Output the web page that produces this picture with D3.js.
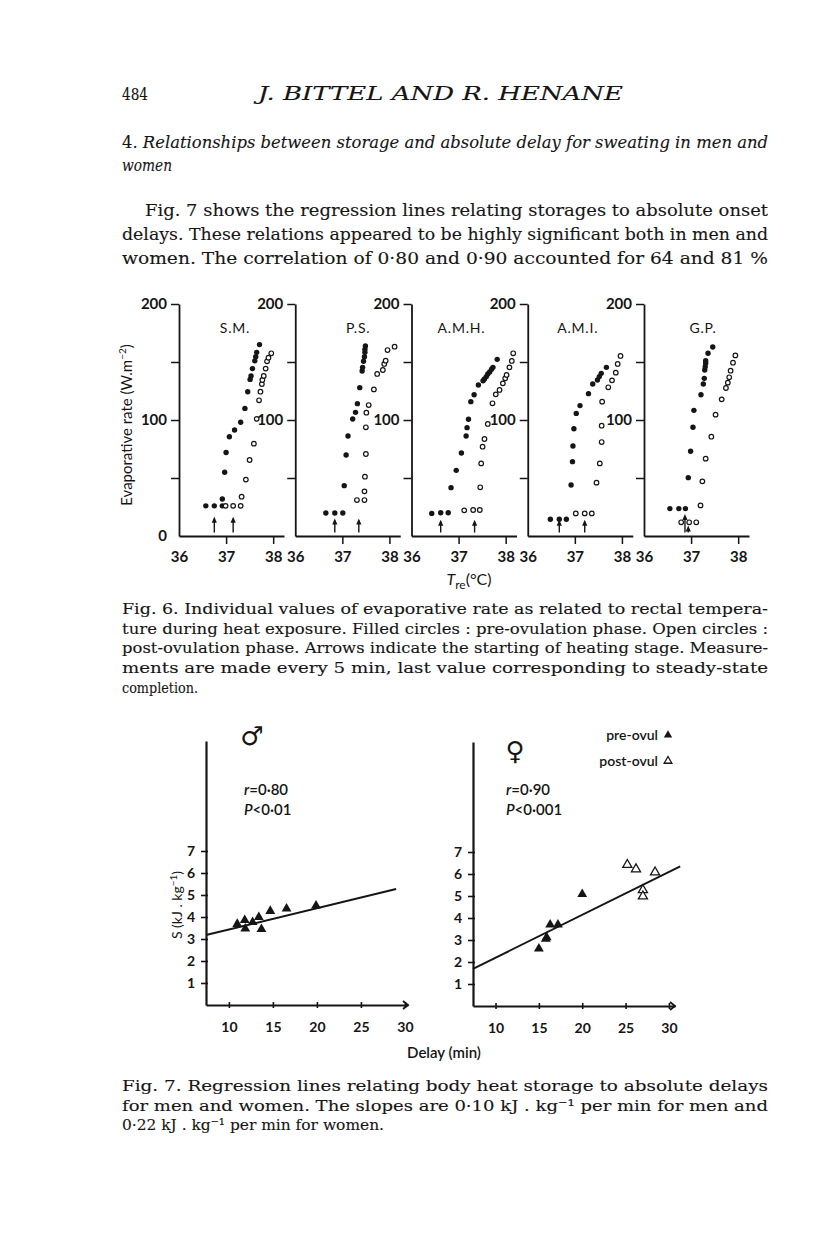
<!DOCTYPE html>
<html>
<head>
<meta charset="utf-8">
<script src="https://cdn.jsdelivr.net/npm/d3@7"></script>
<style>
  body { margin: 0; background: #fff; }
  svg { display: block; }
</style>
</head>
<body>
<svg id="page" width="816" height="1253"></svg>
<script>
// ---- Fig. 6 data: [rectal temperature °C, evaporative rate W.m-2] ----
const subjects = ["S.M.", "P.S.", "A.M.H.", "A.M.I.", "G.P."];

const smPre = [[36.57,26],[36.75,26],[36.92,26],[36.92,31.9],[36.97,55],[37.0,72],[37.07,85.6],[37.18,91.4],[37.31,98],[37.4,110],[37.46,124.4],[37.51,135],[37.53,138],[37.56,144.3],[37.61,151],[37.63,154.6],[37.65,158.3],[37.71,165]];
const smPost = [[36.99,26],[37.15,26],[37.31,26],[37.33,33.9],[37.42,48.6],[37.5,65.5],[37.59,79.6],[37.65,101],[37.7,117],[37.73,124.4],[37.76,131],[37.77,134.5],[37.8,138],[37.84,144.3],[37.87,150.6],[37.9,153.7],[37.96,157.5]];

const psPre = [[36.65,19.8],[36.84,19.8],[37.01,19.8],[37.04,43.4],[37.08,69.8],[37.12,86.2],[37.22,100.9],[37.28,106.6],[37.32,114.1],[37.37,127.9],[37.42,142.2],[37.43,145.4],[37.45,150.6],[37.47,154.6],[37.48,158.3],[37.48,160.9],[37.49,163.8]];
const psPost = [[37.31,31],[37.47,31],[37.47,38.5],[37.48,51.1],[37.5,70.7],[37.5,93.7],[37.51,106.3],[37.56,112.9],[37.67,126.4],[37.74,139.7],[37.86,143.1],[37.89,148.3],[37.92,151.1],[37.96,160.3],[38.11,163.2]];

const amhPre = [[36.43,19.5],[36.62,20.1],[36.78,20.1],[36.84,41.7],[36.95,56.6],[37.06,71.6],[37.16,86.2],[37.18,93.4],[37.21,100.6],[37.26,115.8],[37.33,121.8],[37.42,130.2],[37.52,133.9],[37.55,135.3],[37.59,137.4],[37.62,139.7],[37.66,141.4],[37.7,143.7],[37.73,145.4],[37.82,152.3]];
const amhPost = [[37.12,22.1],[37.31,22.4],[37.45,22.4],[37.46,42],[37.48,62.6],[37.51,77],[37.55,83.6],[37.62,96.6],[37.72,114.4],[37.79,122.1],[37.87,125.9],[37.94,131.6],[37.99,135.9],[38.02,138.8],[38.08,145.4],[38.13,150.9],[38.16,157.5]];

const amiPre = [[36.48,14.4],[36.67,14.4],[36.82,14.4],[36.92,44],[36.95,64.1],[36.96,77.6],[36.98,92.5],[37.03,105.7],[37.11,112.4],[37.29,122.7],[37.38,131],[37.48,134.5],[37.52,137.4],[37.56,140.2],[37.67,145.4]];
const amiPost = [[37.02,19.5],[37.21,19.5],[37.36,19.5],[37.46,46],[37.53,62.6],[37.57,81],[37.57,95.1],[37.58,115.8],[37.71,128.2],[37.79,134.2],[37.87,140.8],[37.91,148.3],[37.97,155.2]];

const gpPre = [[36.55,23.6],[36.74,23.6],[36.88,23.6],[36.94,50.3],[36.99,73],[37.04,93.7],[37.06,108.3],[37.21,121.8],[37.26,131],[37.28,135.9],[37.29,143.1],[37.3,146],[37.31,148.9],[37.31,151.1],[37.36,157.5],[37.46,162.9]];
const gpPost = [[36.79,11.8],[36.96,11.8],[37.11,11.8],[37.2,26.4],[37.24,47.1],[37.31,66.7],[37.43,85.6],[37.52,104.6],[37.65,117.8],[37.74,127.6],[37.78,132.2],[37.81,136.8],[37.84,142.5],[37.89,149.4],[37.94,155.7]];

const preSeries = [smPre, psPre, amhPre, amiPre, gpPre];
const postSeries = [smPost, psPost, amhPost, amiPost, gpPost];

// start of heating: [temperature, arrow tip value]
const heatArrows = [
  [[36.75,16.5],[37.15,16.5]],
  [[36.84,15],[37.35,15]],
  [[36.62,14],[37.34,14]],
  [[36.67,14],[37.21,14]],
  [[36.87,19],[36.94,9]]
];

const evapTicks = [50, 100, 150, 200];
const tempTicks = [36, 37, 38];

// ---- Fig. 7 data: delay (min) vs storage (kJ.kg-1) ----
const maleDelay   = [10.95, 11.8, 11.86, 12.7, 13.4, 13.7, 14.7, 16.55, 19.9];
const maleStorage = [3.68, 3.86, 3.47, 3.76, 3.99, 3.45, 4.27, 4.38, 4.51];
const femPreDelay   = [15.0, 15.8, 15.9, 16.3, 17.2, 20.0];
const femPreStorage = [2.61, 3.05, 3.12, 3.7, 3.7, 5.08];
const femPostDelay   = [25.2, 26.2, 27.0, 27.0, 28.4];
const femPostStorage = [6.42, 6.22, 5.27, 4.99, 6.08];
const maleLine   = [[7.4, 3.18], [29.0, 5.27]];
const femaleLine = [[7.4, 1.69], [31.3, 6.35]];
const delayTicks = [10, 15, 20, 25, 30];
const storageTicks = [1, 2, 3, 4, 5, 6, 7];

// ---- page text ----
const paragraphLines = [
  "Fig. 7 shows the regression lines relating storages to absolute onset",
  "delays. These relations appeared to be highly significant both in men and",
  "women. The correlation of 0·80 and 0·90 accounted for 64 and 81 %"
];
const fig6Caption = [
  "Fig. 6. Individual values of evaporative rate as related to rectal tempera-",
  "ture during heat exposure. Filled circles : pre-ovulation phase. Open circles :",
  "post-ovulation phase. Arrows indicate the starting of heating stage. Measure-",
  "ments are made every 5 min, last value corresponding to steady-state",
  "completion."
];
const fig7Caption = [
  "Fig. 7. Regression lines relating body heat storage to absolute delays",
  "for men and women. The slopes are 0·10 kJ . kg⁻¹ per min for men and",
  "0·22 kJ . kg⁻¹ per min for women."
];

const ink = "#151515";
const serif = "'DejaVu Serif', serif";
const sans = "Lato, 'Open Sans', sans-serif";

const svg = d3.select("#page");
svg.append("rect").attr("width", 816).attr("height", 1253).attr("fill", "#fff");

// helper for a justified line of text
function textLine(x, y, str, opts) {
  const t = svg.append("text")
    .attr("x", x).attr("y", y)
    .attr("fill", ink).attr("stroke", ink).attr("stroke-width", 0.12)
    .style("font-family", opts.family || serif)
    .style("font-size", opts.size + "px")
    .style("font-style", opts.italic ? "italic" : "normal")
    .text(str);
  if (opts.width) t.attr("textLength", opts.width).attr("lengthAdjust", "spacingAndGlyphs");
  return t;
}

function textBlock(x, y, lines, size, step, width, lastWidth) {
  lines.forEach((s, i) => {
    const last = i === lines.length - 1;
    textLine(x, y + i * step, s, { size: size, width: last ? lastWidth : width });
  });
}

// header
textLine(122, 100, "484", { size: 17, width: 26 });
textLine(258, 100, "J. BITTEL AND R. HENANE", { size: 19, italic: true, width: 365 });

// section heading
const head = svg.append("text").attr("x", 122).attr("y", 148)
  .attr("fill", ink).attr("stroke", ink).attr("stroke-width", 0.12)
  .style("font-family", serif).style("font-size", "17px")
  .attr("textLength", 646).attr("lengthAdjust", "spacingAndGlyphs");
head.append("tspan").text("4. ");
head.append("tspan").style("font-style", "italic")
  .text("Relationships between storage and absolute delay for sweating in men and");
textLine(122, 171, "women", { size: 17, italic: true, width: 50 });

// paragraph
paragraphLines.forEach((s, i) => {
  const x = i === 0 ? 145 : 122;
  textLine(x, 216 + i * 24, s, { size: 17.5, width: 768 - x });
});

// ================= Fig. 6 =================
const panelX = d3.scaleLinear().domain([0, 4]).range([179, 644]);
const yEvap = d3.scaleLinear().domain([0, 200]).range([536, 304]);
const titleShift = [56, 63, 50, 50, 59];

subjects.forEach((name, i) => {
  const x0 = panelX(i);
  const x = d3.scaleLinear().domain([36, 38.23]).range([x0, x0 + 105]);
  const g = svg.append("g");

  const yAx = g.append("g").attr("transform", `translate(${x0},0)`)
    .call(d3.axisLeft(yEvap)
      .tickValues(i === 0 ? [0].concat(evapTicks) : evapTicks)
      .tickSize(8).tickSizeOuter(0).tickPadding(4)
      .tickFormat(d => d % 100 === 0 ? d : ""));
  yAx.selectAll(".tick").filter(d => d === 0).select("line").remove();

  const xAx = g.append("g").attr("transform", `translate(0,${yEvap(0)})`)
    .call(d3.axisBottom(x).tickValues(tempTicks)
      .tickSize(8).tickSizeOuter(0).tickPadding(7)
      .tickFormat(d3.format("d")));
  xAx.selectAll(".tick").filter(d => d === 36).select("line").remove();

  [yAx, xAx].forEach(a => {
    a.select(".domain").attr("stroke", ink).attr("stroke-width", 1.8);
    a.selectAll(".tick line").attr("stroke", ink).attr("stroke-width", 1.5);
    a.selectAll(".tick text").attr("fill", ink)
      .style("font-family", sans).style("font-size", "15px").style("font-weight", 700);
  });

  g.append("text")
    .attr("x", x0 + titleShift[i]).attr("y", 333)
    .attr("text-anchor", "middle").attr("fill", ink)
    .style("font-family", sans).style("font-size", "14px").style("letter-spacing", "0.8px")
    .text(name);

  g.selectAll(".pre").data(preSeries[i]).join("circle")
    .attr("cx", d => x(d[0])).attr("cy", d => yEvap(d[1]))
    .attr("r", 2.7).attr("fill", ink);

  g.selectAll(".post").data(postSeries[i]).join("circle")
    .attr("cx", d => x(d[0])).attr("cy", d => yEvap(d[1]))
    .attr("r", 2.3).attr("fill", "#fff").attr("stroke", ink).attr("stroke-width", 1.2);

  heatArrows[i].forEach(a => {
    const ax = x(a[0]), top = yEvap(a[1]), bot = yEvap(3);
    g.append("line").attr("x1", ax).attr("x2", ax).attr("y1", top + 2).attr("y2", bot)
      .attr("stroke", ink).attr("stroke-width", 1.4);
    g.append("path")
      .attr("d", `M${ax},${top}L${ax - 2.6},${top + 6}L${ax + 2.6},${top + 6}Z`)
      .attr("fill", ink);
  });
});

// fig 6 axis titles
const evLab = svg.append("text")
  .attr("transform", "translate(132,425) rotate(-90)")
  .attr("text-anchor", "middle").attr("fill", ink)
  .style("font-family", sans).style("font-size", "15px");
evLab.append("tspan").text("Evaporative rate (W.m");
evLab.append("tspan").attr("dy", -6).style("font-size", "10px").text("−2");
evLab.append("tspan").attr("dy", 6).text(")");

const tre = svg.append("text").attr("x", 469).attr("y", 585)
  .attr("text-anchor", "middle").attr("fill", ink)
  .style("font-family", sans).style("font-size", "16px");
tre.append("tspan").style("font-style", "italic").text("T");
tre.append("tspan").attr("dy", 4).style("font-size", "12px").text("re");
tre.append("tspan").attr("dy", -4).text("(°C)");

// fig 6 caption
textBlock(122, 614, fig6Caption, 15, 19.7, 646, 76);

// ================= Fig. 7 =================
function regressionPanel(opts) {
  const x = d3.scaleLinear().domain([7.4, opts.xMax]).range([opts.left, opts.right]);
  const y = d3.scaleLinear().domain([0, 12]).range([opts.bottom, opts.bottom - 264]);
  const g = svg.append("g");

  const yAx = g.append("g").attr("transform", `translate(${opts.left},0)`)
    .call(d3.axisLeft(y).tickValues(storageTicks).tickSize(5).tickSizeOuter(0).tickPadding(6));
  yAx.selectAll(".tick line").attr("x1", 2);

  const xAx = g.append("g").attr("transform", `translate(0,${opts.bottom})`)
    .call(d3.axisBottom(x).tickValues(delayTicks).tickSize(3).tickSizeOuter(0).tickPadding(14));
  xAx.selectAll(".tick line").attr("y1", -3);

  [yAx, xAx].forEach(a => {
    a.select(".domain").attr("stroke", ink).attr("stroke-width", 2.2);
    a.selectAll(".tick line").attr("stroke", ink).attr("stroke-width", 1.6);
    a.selectAll(".tick text").attr("fill", ink)
      .style("font-family", sans).style("font-size", "14px").style("font-weight", 700);
  });

  // arrow tip at the end of the delay axis
  const ex = x(opts.xMax), ey = opts.bottom;
  g.append("path").attr("d", `M${ex - 5},${ey - 4}L${ex},${ey}L${ex - 5},${ey + 4}`)
    .attr("fill", "none").attr("stroke", ink).attr("stroke-width", 1.8);

  g.append("line")
    .attr("x1", x(opts.line[0][0])).attr("y1", y(opts.line[0][1]))
    .attr("x2", x(opts.line[1][0])).attr("y2", y(opts.line[1][1]))
    .attr("stroke", ink).attr("stroke-width", 2);

  const tri = d3.symbol().type(d3.symbolTriangle).size(42);
  g.selectAll(".filled").data(opts.filled[0]).join("path")
    .attr("transform", (d, k) => `translate(${x(d)},${y(opts.filled[1][k])})`)
    .attr("d", tri).attr("fill", ink);
  if (opts.open) {
    g.selectAll(".open").data(opts.open[0]).join("path")
      .attr("transform", (d, k) => `translate(${x(d)},${y(opts.open[1][k])})`)
      .attr("d", d3.symbol().type(d3.symbolTriangle).size(36))
      .attr("fill", "#fff").attr("stroke", ink).attr("stroke-width", 1.3);
  }
  return g;
}

regressionPanel({
  left: 206, right: 408, bottom: 1005, xMax: 30.35,
  line: maleLine, filled: [maleDelay, maleStorage]
});
regressionPanel({
  left: 473, right: 675, bottom: 1006, xMax: 30.7,
  line: femaleLine, filled: [femPreDelay, femPreStorage], open: [femPostDelay, femPostStorage]
});

// symbols and stats
svg.append("text").attr("x", 252).attr("y", 745).attr("text-anchor", "middle").attr("fill", ink)
  .style("font-family", "'DejaVu Sans', sans-serif").style("font-size", "26px").style("font-weight", 700)
  .text("♂");
svg.append("text").attr("x", 515).attr("y", 760).attr("text-anchor", "middle").attr("fill", ink)
  .style("font-family", "'DejaVu Sans', sans-serif").style("font-size", "26px").style("font-weight", 700)
  .text("♀");

function stat(x, y, letter, rest) {
  const t = svg.append("text").attr("x", x).attr("y", y).attr("fill", ink)
    .style("font-family", sans).style("font-size", "15px").style("font-weight", 600);
  t.append("tspan").style("font-style", "italic").text(letter);
  t.append("tspan").text(rest);
}
stat(244, 795, "r", "=0·80");
stat(244, 815, "P", "<0·01");
stat(506, 795, "r", "=0·90");
stat(506, 815, "P", "<0·001");

// legend
svg.append("text").attr("x", 658).attr("y", 740).attr("text-anchor", "end").attr("fill", ink)
  .style("font-family", sans).style("font-size", "14px").style("font-weight", 600).text("pre-ovul");
svg.append("text").attr("x", 658).attr("y", 766).attr("text-anchor", "end").attr("fill", ink)
  .style("font-family", sans).style("font-size", "14px").style("font-weight", 600).text("post-ovul");
svg.append("path").attr("transform", "translate(668,735)")
  .attr("d", d3.symbol().type(d3.symbolTriangle).size(30)).attr("fill", ink);
svg.append("path").attr("transform", "translate(668,761)")
  .attr("d", d3.symbol().type(d3.symbolTriangle).size(26))
  .attr("fill", "#fff").attr("stroke", ink).attr("stroke-width", 1.3);

// fig 7 axis titles
const sLab = svg.append("text").attr("transform", "translate(182,905) rotate(-90)")
  .attr("text-anchor", "middle").attr("fill", ink)
  .style("font-family", sans).style("font-size", "14px");
sLab.append("tspan").text("S (kJ . kg");
sLab.append("tspan").attr("dy", -5).style("font-size", "10px").text("−1");
sLab.append("tspan").attr("dy", 5).text(")");

svg.append("text").attr("x", 444).attr("y", 1058).attr("text-anchor", "middle").attr("fill", ink)
  .style("font-family", sans).style("font-size", "15px").style("font-weight", 600).text("Delay (min)");

// fig 7 caption
textBlock(122, 1091, fig7Caption, 15, 19.7, 646, 262);
</script>
</body>
</html>
